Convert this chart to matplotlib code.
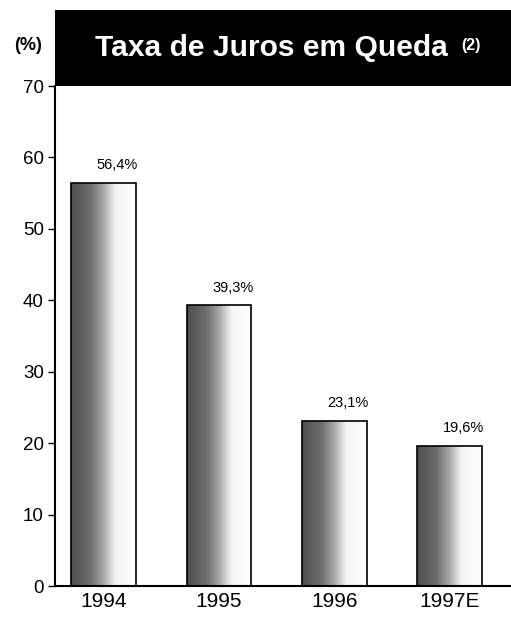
import numpy as np
import matplotlib.pyplot as plt
from matplotlib.patches import Rectangle
from matplotlib.colors import LinearSegmentedColormap

plt.rcParams['font.family'] = ['Liberation Sans', 'DejaVu Sans']

years = ['1994', '1995', '1996', '1997E']
taxa = [56.4, 39.3, 23.1, 19.6]
rotulos = ['56,4%', '39,3%', '23,1%', '19,6%']
yticks = [0, 10, 20, 30, 40, 50, 60, 70]

fig = plt.figure(figsize=(5.11, 6.17), dpi=100)
ax = fig.add_axes([0.1076, 0.0502, 0.8924, 0.8104])

x = np.arange(len(years))
bars = ax.bar(x, taxa, width=0.56, facecolor='none', edgecolor='black', linewidth=1.2, zorder=3)

# gradient fill: dark grey on the left fading to white on the right
cmap = LinearSegmentedColormap.from_list('grad', [(0.0, '#4e4e4e'), (0.3, '#6e6e6e'),
                                                  (0.5, '#a8a8a8'), (0.68, '#f4f4f4'),
                                                  (1.0, '#ffffff')])
grad = np.linspace(0, 1, 256).reshape(1, -1)
for b in bars:
    bx, by = b.get_x(), b.get_y()
    w, h = b.get_width(), b.get_height()
    im = ax.imshow(grad, cmap=cmap, aspect='auto', extent=(bx, bx + w, by, by + h),
                   zorder=2, interpolation='bilinear')
    im.set_clip_path(b)

for xi, v, lab in zip(x, taxa, rotulos):
    ax.text(xi + 0.12, v + 1.5, lab, ha='center', va='bottom', fontsize=10.5)

ax.set_xlim(-0.42, 3.53)
ax.set_ylim(0, 70)
ax.set_yticks(yticks)
ax.set_xticks(x)
ax.set_xticklabels(years, fontsize=15)
ax.tick_params(axis='x', length=0, pad=4)
ax.tick_params(axis='y', labelsize=13.5, length=5, width=1, direction='out', pad=3)

ax.spines['top'].set_visible(False)
ax.spines['right'].set_visible(False)
ax.spines['left'].set_linewidth(1.5)
ax.spines['bottom'].set_linewidth(1.5)

# black title bar above the plot area
fig.patches.append(Rectangle((0.1076, 0.8606), 0.8924, 0.1232, transform=fig.transFigure,
                             facecolor='black', edgecolor='none', zorder=5))
fig.text(0.185, 0.922, 'Taxa de Juros em Queda', color='white', fontsize=21.6,
         fontweight='bold', va='center', ha='left', zorder=6)
fig.text(0.902, 0.927, '(2)', color='white', fontsize=11.5, fontweight='bold',
         va='center', ha='left', zorder=6)
fig.text(0.028, 0.926, '(%)', fontsize=13, fontweight='bold', va='center', ha='left')

plt.savefig('out.png', dpi=100)
